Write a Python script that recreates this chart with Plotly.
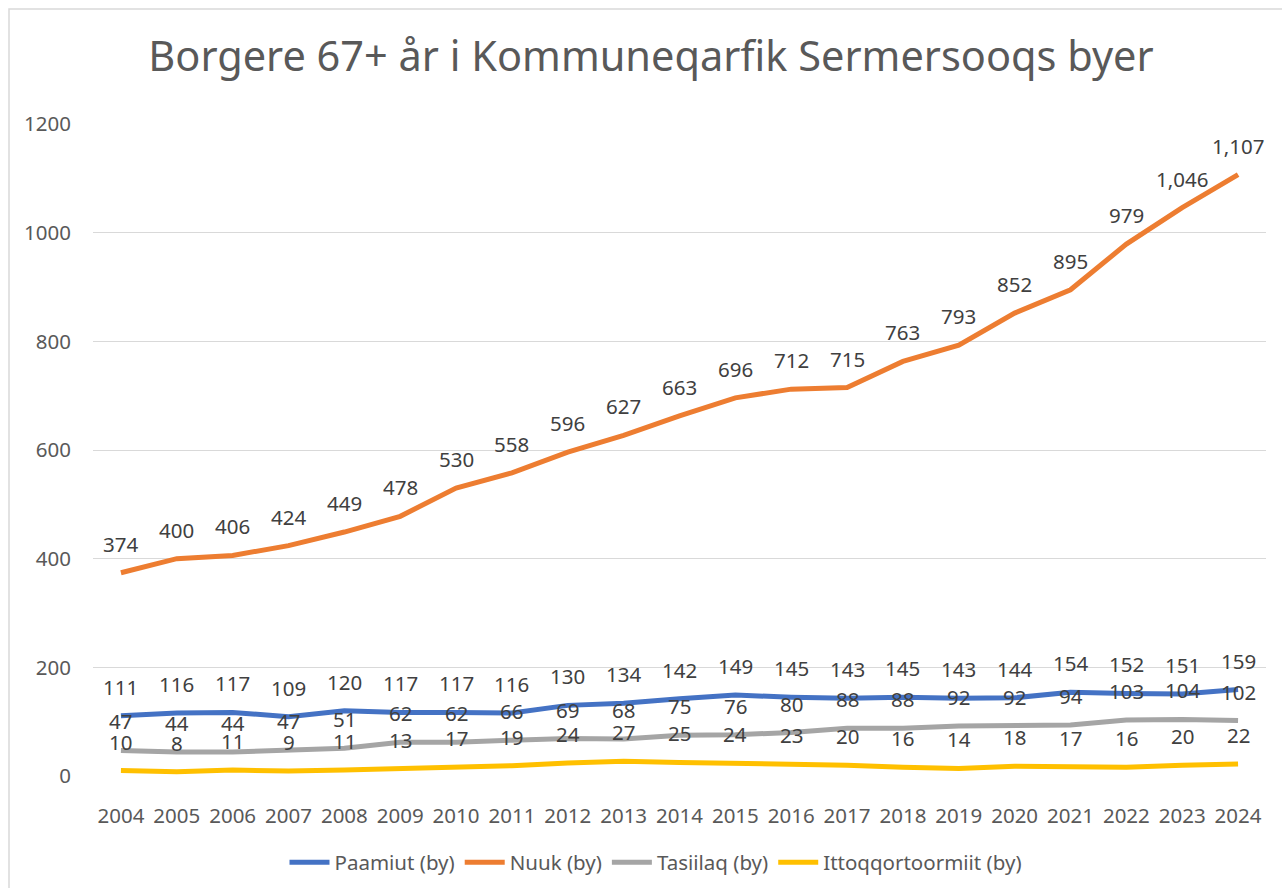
import plotly.graph_objects as go

years = list(range(2004, 2025))
paamiut = [111, 116, 117, 109, 120, 117, 117, 116, 130, 134, 142, 149, 145, 143, 145, 143, 144, 154, 152, 151, 159]
nuuk = [374, 400, 406, 424, 449, 478, 530, 558, 596, 627, 663, 696, 712, 715, 763, 793, 852, 895, 979, 1046, 1107]
tasiilaq = [47, 44, 44, 47, 51, 62, 62, 66, 69, 68, 75, 76, 80, 88, 88, 92, 92, 94, 103, 104, 102]
ittoq = [10, 8, 11, 9, 11, 13, 17, 19, 24, 27, 25, 24, 23, 20, 16, 14, 18, 17, 16, 20, 22]

series = [
    ("Paamiut (by)", paamiut, "#4472C4"),
    ("Nuuk (by)", nuuk, "#ED7D31"),
    ("Tasiilaq (by)", tasiilaq, "#A5A5A5"),
    ("Ittoqqortoormiit (by)", ittoq, "#FFC000"),
]

FONT = "Noto Sans"
W, H = 1282, 888
L, R, T, B = 93, 16, 124, 111.5
PH = H - T - B
PW = W - L - R

fig = go.Figure()
annotations = []
for name, vals, col in series:
    fig.add_trace(go.Scatter(x=years, y=vals, mode="lines", name=name,
                             line=dict(color=col, width=5)))
    for x, v in zip(years, vals):
        annotations.append(dict(x=x, y=v, text=f"{v:,}", showarrow=False,
                                yshift=29, font=dict(family=FONT, size=20.5, color="#404040")))

fig.update_layout(
    width=W, height=H,
    margin=dict(l=L, r=R, t=T, b=B, autoexpand=False),
    paper_bgcolor="white", plot_bgcolor="white",
    font=dict(family=FONT, color="#595959"),
    title=dict(text="Borgere 67+ år i Kommuneqarfik Sermersooqs byer",
               x=651 / W, xanchor="center", y=1 - 56 / H, yanchor="middle", yref="container",
               font=dict(family=FONT, size=41.5, color="#595959")),
    xaxis=dict(range=[2003.5, 2024.5], tickvals=years, showgrid=False, zeroline=False,
               showline=False, ticks="", ticklabelstandoff=25, automargin=False,
               tickfont=dict(family=FONT, size=20.5, color="#595959")),
    yaxis=dict(range=[0, 1200], tickvals=list(range(0, 1201, 200)), showgrid=True,
               gridcolor="#D9D9D9", gridwidth=1.3, zeroline=False, showline=False, ticks="",
               ticklabelstandoff=21, automargin=False,
               tickfont=dict(family=FONT, size=20.5, color="#595959")),
    legend=dict(orientation="h", x=(656 - L) / PW, xanchor="center",
                y=(H - B - 863) / PH, yanchor="middle",
                font=dict(family=FONT, size=20.5, color="#595959"), itemwidth=40,
                tracegroupgap=0),
    annotations=annotations,
    shapes=[dict(type="rect", xref="paper", yref="paper",
                 x0=(9 - L) / PW, x1=(W + 20 - L) / PW, y0=-0.3, y1=(H - B - 9) / PH,
                 line=dict(color="#D9D9D9", width=1.5), fillcolor="rgba(0,0,0,0)", layer="below")],
    showlegend=True,
)

fig.write_html("out.html", config={"displayModeBar": False},
               post_script="document.body.style.margin='0';document.body.style.overflow='hidden';")
